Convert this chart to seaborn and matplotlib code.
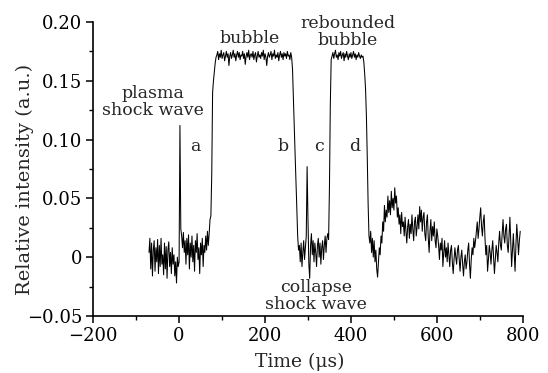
import numpy as np
import pandas as pd
import matplotlib
matplotlib.use("Agg")
import matplotlib.pyplot as plt
from matplotlib.ticker import MultipleLocator, FuncFormatter
import seaborn as sns

pre_baseline = [0.004, 0.016, -0.010, 0.012, -0.016, 0.006, 0.014, -0.012, 0.008, -0.004,
                0.015, -0.014, 0.010, -0.008, 0.016, -0.006, 0.002, -0.015, 0.012, -0.010,
                0.009, -0.018, 0.006, 0.013, -0.008, 0.004, -0.014, 0.008, -0.006, 0.002,
                -0.016, -0.004, -0.022, 0.000, -0.008]
plasma_section = [-0.004, 0.112, 0.024,
                  0.018, 0.008, 0.021, 0.004, 0.014, -0.006, 0.016, 0.002, 0.019, -0.010,
                  0.012, 0.000, 0.018, -0.004, 0.010, -0.012, 0.014, 0.004, 0.020, -0.002,
                  0.008, -0.014, 0.012, 0.002, 0.016, -0.008, 0.010, 0.004, 0.018, 0.006,
                  0.022, 0.010,
                  0.020, 0.032, 0.035]
bubble_rise = [0.070, 0.140, 0.150, 0.158, 0.165, 0.170]
bubble_plateau = [0.172, 0.175, 0.168, 0.173, 0.170, 0.176, 0.169, 0.172, 0.174, 0.167,
                  0.171, 0.175, 0.170, 0.173, 0.163, 0.171, 0.174, 0.169, 0.172, 0.176,
                  0.170, 0.173, 0.167, 0.172, 0.175, 0.170, 0.174, 0.168, 0.172, 0.171,
                  0.175, 0.169, 0.173, 0.164, 0.171, 0.174, 0.170, 0.176, 0.168, 0.172,
                  0.173, 0.170, 0.175, 0.168, 0.172, 0.174, 0.166, 0.171, 0.175, 0.170,
                  0.172, 0.169, 0.174, 0.171, 0.176, 0.168, 0.173, 0.170, 0.163, 0.171,
                  0.174, 0.170, 0.172, 0.175, 0.168, 0.173, 0.171, 0.176, 0.169, 0.172,
                  0.170, 0.174, 0.167, 0.172, 0.175, 0.170, 0.173, 0.168, 0.174, 0.171,
                  0.173, 0.169, 0.175, 0.171, 0.172, 0.168, 0.174, 0.170]
collapse_section = [0.160, 0.135, 0.110, 0.088, 0.066, 0.042, 0.018, 0.006,
                    0.010, -0.004, 0.012, -0.008, 0.004, 0.014, -0.002, 0.008, 0.018,
                    0.077, 0.032,
                    -0.006, -0.018, 0.010, 0.020, 0.002, 0.014, -0.004, 0.012, 0.004, -0.008,
                    0.010, 0.016, 0.000, 0.012, -0.006, 0.008, 0.014, -0.002, 0.010, 0.018,
                    0.004, 0.016, 0.020,
                    0.015, 0.060, 0.130, 0.168]
rebound_plateau = [0.171, 0.174, 0.169, 0.173, 0.176, 0.170, 0.172, 0.168, 0.174, 0.171,
                   0.175, 0.169, 0.172, 0.174, 0.167, 0.173, 0.170, 0.175, 0.171, 0.168,
                   0.173, 0.170, 0.174, 0.169, 0.172, 0.175, 0.170, 0.173, 0.168, 0.172,
                   0.170, 0.174, 0.171, 0.169, 0.172, 0.170, 0.171]
rebound_fall = [0.166, 0.156, 0.143, 0.120, 0.085, 0.045, 0.018]
tail = [0.012, 0.022, 0.004, 0.016, 0.000, 0.014, -0.004, 0.006, -0.010, -0.017,
        -0.004, 0.008, 0.002, 0.018, 0.012, 0.030, 0.022, 0.044, 0.030, 0.040,
        0.034, 0.052, 0.038, 0.048, 0.036, 0.056, 0.042, 0.050, 0.040, 0.059,
        0.046, 0.052, 0.034, 0.042, 0.028, 0.036, 0.020, 0.038, 0.026, 0.030,
        0.018, 0.034, 0.022, 0.012, 0.026, 0.032, 0.016, 0.028, 0.020, 0.036,
        0.024, 0.014, 0.030, 0.034, 0.018, 0.026, 0.036, 0.024, 0.043, 0.030,
        0.040, 0.022, 0.034, 0.038, 0.020, 0.014, 0.030, 0.036, 0.016, 0.004,
        0.022, 0.032, 0.014, 0.026, 0.018, 0.030, 0.014, 0.008, 0.024, 0.018,
        0.010, -0.002, 0.012, 0.006, 0.016, -0.008, 0.004, 0.014, 0.000, 0.008,
        -0.004, 0.012, 0.002, -0.008, 0.006, 0.010, -0.004, -0.014, -0.002, 0.008,
        0.000, -0.006, 0.006, 0.010, -0.002, -0.012, 0.000, 0.006, -0.006, -0.016,
        -0.004, 0.002, -0.010, -0.004, 0.006, 0.012, -0.006, -0.018, -0.002, 0.008,
        0.002, 0.016, 0.008, 0.014, 0.022, 0.030, 0.016, 0.024, 0.034, 0.042,
        0.026, 0.018, 0.030, 0.036, 0.016, 0.002, 0.010, -0.012, -0.002, 0.010,
        0.004, -0.006, 0.006, 0.014, 0.000, -0.014, -0.002, 0.010, 0.004, -0.004,
        0.012, 0.022, 0.010, 0.006, 0.020, 0.032, 0.018, 0.012, 0.024, 0.028,
        0.010, 0.004, 0.018, 0.034, 0.012, -0.008, 0.006, 0.020, 0.004, -0.012,
        0.010, 0.028, 0.016, 0.002, 0.014, 0.022]

intensity = (pre_baseline + plasma_section + bubble_rise + bubble_plateau +
             collapse_section + rebound_plateau + rebound_fall + tail)
t_start = -70
t_step = 2
time_us = t_start + t_step * np.arange(len(intensity))

x_ticks = [-200, 0, 200, 400, 600, 800]
y_ticks = [-0.05, 0, 0.05, 0.10, 0.15, 0.20]

df = pd.DataFrame({"time": time_us, "intensity": intensity})

sns.set_theme(style="ticks")
plt.rcParams["font.family"] = ["DejaVu Serif"]
plt.rcParams["mathtext.fontset"] = "dejavuserif"

fig = plt.figure(figsize=(5.48, 3.73), dpi=100)
ax = fig.add_axes([0.170, 0.153, 0.784, 0.788])

sns.lineplot(data=df, x="time", y="intensity", ax=ax, color="black",
             linewidth=0.75, estimator=None, sort=False)

ax.set_xlim(-200, 800)
ax.set_ylim(-0.05, 0.20)
ax.set_xticks(x_ticks)
ax.set_yticks(y_ticks)
ax.xaxis.set_minor_locator(MultipleLocator(100))
ax.yaxis.set_minor_locator(MultipleLocator(0.025))


def yfmt(v, pos):
    if abs(v) < 1e-9:
        return "0"
    return f"{v:.2f}".replace("-", "\u2212")


ax.yaxis.set_major_formatter(FuncFormatter(yfmt))
ax.xaxis.set_major_formatter(FuncFormatter(lambda v, p: f"{int(round(v))}".replace("-", "\u2212")))

for side in ("top", "right"):
    ax.spines[side].set_visible(False)
for side in ("left", "bottom"):
    ax.spines[side].set_linewidth(1.2)
    ax.spines[side].set_color("black")

ax.tick_params(which="major", direction="out", length=5, width=1.1, labelsize=13,
               colors="black", pad=3)
ax.tick_params(which="minor", direction="out", length=3, width=1.0, colors="black")

ax.set_xlabel("Time (\u03bcs)", fontsize=13.5)
ax.set_ylabel("Relative intensity (a.u.)", fontsize=14)
ax.xaxis.set_label_coords(0.481, -0.156)
ax.yaxis.set_label_coords(-0.160, 0.466)
ax.xaxis.label.set_va("center")
ax.yaxis.label.set_va("center")

fs = 12.5
ax.text(-61, 0.132, "plasma\nshock wave", ha="center", va="center", fontsize=fs,
        linespacing=1.0)
ax.text(164, 0.186, "bubble", ha="center", va="center", fontsize=fs)
ax.text(392, 0.1915, "rebounded\nbubble", ha="center", va="center", fontsize=fs,
        linespacing=1.0, clip_on=False)
ax.text(319, -0.033, "collapse\nshock wave", ha="center", va="center", fontsize=fs,
        linespacing=1.0)
for lbl, tx in zip(["a", "b", "c", "d"], [37, 243, 325, 409]):
    ax.text(tx, 0.094, lbl, ha="center", va="center", fontsize=fs)

fig.savefig("out.png", dpi=100)
